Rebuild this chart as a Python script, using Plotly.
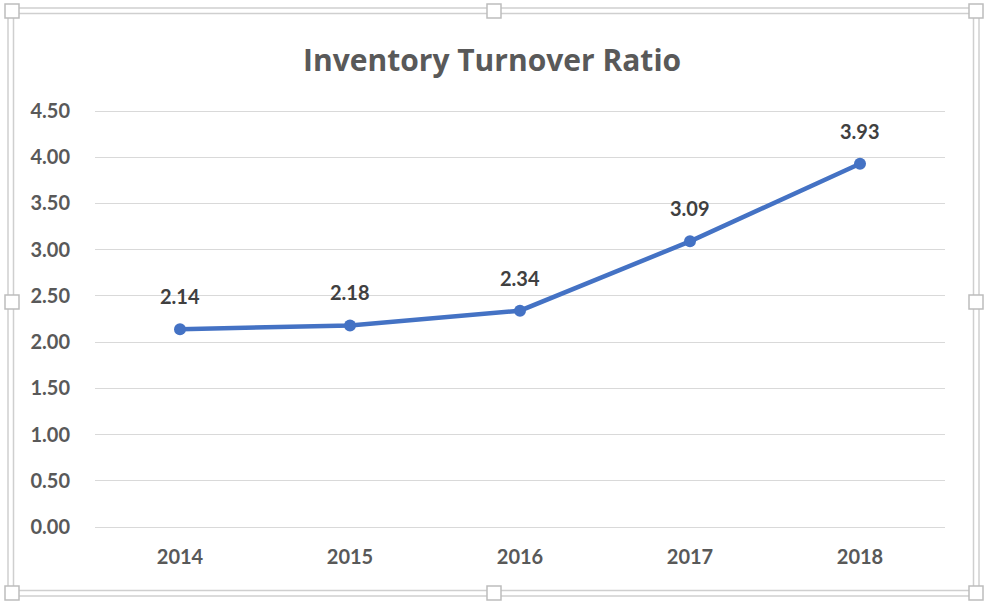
import plotly.graph_objects as go

# Inventory turnover by fiscal year
years = ["2014", "2015", "2016", "2017", "2018"]
turnover = [2.14, 2.18, 2.34, 3.09, 3.93]
y_ticks = [0.0, 0.5, 1.0, 1.5, 2.0, 2.5, 3.0, 3.5, 4.0, 4.5]

W, H = 985, 603
LINE_BLUE = "#4472C4"
GRID = "#D9D9D9"
TEXT = "#595959"
FONT = "Lato"

# plot area: 0.00 sits at y=527 px, 4.50 at y=111 px; pad range a little so
# the edge gridlines are drawn
Y_PAD = 0.02
PX_PER_UNIT = (527 - 111) / 4.5


def px_x(v):
    return v / W


def px_y(v):
    return 1 - v / H


fig = go.Figure()

fig.add_trace(go.Scatter(
    x=years,
    y=turnover,
    mode="lines+markers",
    line=dict(color=LINE_BLUE, width=4.5),
    marker=dict(color=LINE_BLUE, size=12),
    hoverinfo="skip",
    showlegend=False,
))

# value labels above each point (x given as category index)
for i, val in enumerate(turnover):
    fig.add_annotation(
        x=i, y=val, xref="x", yref="y",
        text=f"{val:.2f}", showarrow=False, yshift=33,
        font=dict(family=FONT, size=20, color="#404040", weight="bold"),
    )

# chart title
fig.add_annotation(
    x=px_x(492), y=px_y(59), xref="paper", yref="paper",
    text="Inventory Turnover Ratio", showarrow=False,
    xanchor="center", yanchor="middle",
    font=dict(family="Open Sans", size=30, color=TEXT, weight="bold"),
)

shapes = []
# frame: double grey outline
for (x0, y0, x1, y1) in [(8, 8, 979, 596), (13.5, 13.5, 973.5, 590.5)]:
    shapes.append(dict(
        type="rect", xref="paper", yref="paper",
        x0=px_x(x0), y0=px_y(y0), x1=px_x(x1), y1=px_y(y1),
        line=dict(color="#CFCFCF", width=1.5), fillcolor="rgba(0,0,0,0)",
        layer="above",
    ))
# sizing handles
for cx, cy in [(12, 11), (494, 11), (976, 11),
               (12, 302), (976, 302),
               (12, 593), (494, 593), (976, 593)]:
    shapes.append(dict(
        type="rect", xref="paper", yref="paper",
        x0=px_x(cx - 7), y0=px_y(cy - 7), x1=px_x(cx + 7), y1=px_y(cy + 7),
        line=dict(color="#BDBDBD", width=1.5), fillcolor="white",
        layer="above",
    ))

pad_px = Y_PAD * PX_PER_UNIT

fig.update_layout(
    width=W, height=H,
    margin=dict(l=0, r=0, t=0, b=0, autoexpand=False),
    paper_bgcolor="white",
    plot_bgcolor="white",
    shapes=shapes,
    xaxis=dict(
        domain=[px_x(95), px_x(945)],
        type="category",
        range=[-0.5, 4.5],
        showgrid=False, zeroline=False, showline=False,
        ticks="", ticklabelstandoff=14, automargin=False,
        tickfont=dict(family=FONT, size=20, color=TEXT, weight="bold"),
        fixedrange=True,
    ),
    yaxis=dict(
        domain=[px_y(527 + pad_px), px_y(111 - pad_px)],
        range=[-Y_PAD, 4.5 + Y_PAD],
        tickvals=y_ticks,
        tickformat=".2f",
        showgrid=True, gridcolor=GRID, gridwidth=1.3,
        zeroline=False, showline=False,
        ticks="", ticklabelstandoff=24, automargin=False,
        tickfont=dict(family=FONT, size=20, color=TEXT, weight="bold"),
        fixedrange=True,
    ),
)

fig.write_html("out.html")
